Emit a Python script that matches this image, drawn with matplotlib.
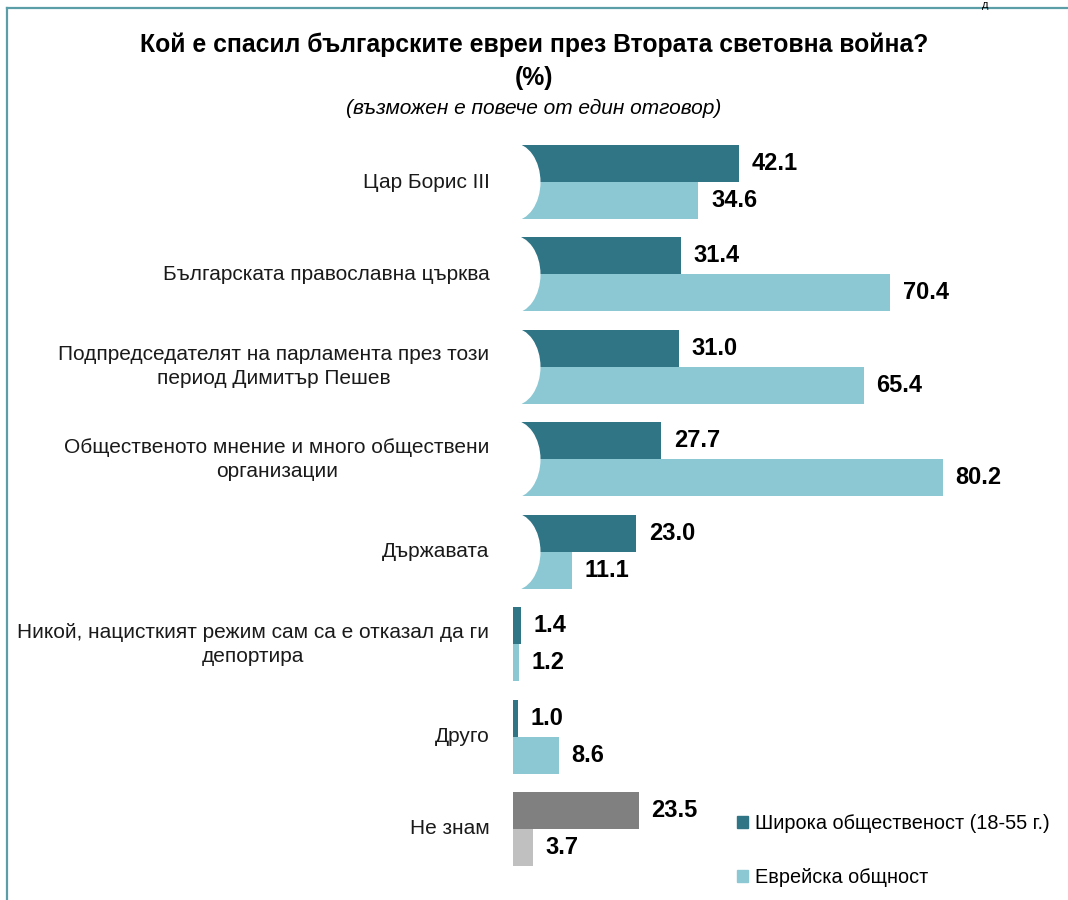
import matplotlib.pyplot as plt
from matplotlib.patches import Ellipse, Patch
from matplotlib.lines import Line2D

categories = ['Цар Борис III',
              'Българската православна църква',
              'Подпредседателят на парламента през този\nпериод Димитър Пешев',
              'Общественото мнение и много обществени\nорганизации',
              'Държавата',
              'Никой, нацисткият режим сам са е отказал да ги\nдепортира',
              'Друго',
              'Не знам']
general_public = [42.1, 31.4, 31.0, 27.7, 23.0, 1.4, 1.0, 23.5]
jewish_community = [34.6, 70.4, 65.4, 80.2, 11.1, 1.2, 8.6, 3.7]
series_names = ['Широка общественост (18-55 г.)', 'Еврейска общност']

DARK = '#2F7586'
LIGHT = '#8CC8D4'
DARK_GRAY = '#808080'
LIGHT_GRAY = '#C0C0C0'
FRAME = '#5B9EA8'

plt.rcParams['font.family'] = ['Liberation Sans', 'DejaVu Sans']

fig = plt.figure(figsize=(10.68, 9), dpi=100)
ax = fig.add_axes([513 / 1068, 20 / 900, 555 / 1068, 750 / 900])

h = 0.4
for i, (a, b) in enumerate(zip(general_public, jewish_community)):
    c1, c2 = (DARK_GRAY, LIGHT_GRAY) if categories[i] == 'Не знам' else (DARK, LIGHT)
    ax.barh(i - h / 2, a, height=h, color=c1)
    ax.barh(i + h / 2, b, height=h, color=c2)
    ax.annotate(f'{a:.1f}', (a, i - h / 2), xytext=(9, 0), textcoords='offset points',
                ha='left', va='center', fontsize=17, fontweight='bold')
    ax.annotate(f'{b:.1f}', (b, i + h / 2), xytext=(9, 0), textcoords='offset points',
                ha='left', va='center', fontsize=17, fontweight='bold')
    # white rounded cut on the left of the bigger bars
    if min(a, b) > 5:
        ax.add_patch(Ellipse((0, i), 10, 0.83, color='white', zorder=3))
    ax.annotate(categories[i], (0, i), xytext=(-17, 0), textcoords='offset points',
                ha='right', va='center', multialignment='center', fontsize=15,
                linespacing=1.35, color='#1a1a1a', annotation_clip=False)

ax.set_xlim(0, 555 / 5.36)
ax.set_ylim(7 + (880 - 829) / 92.4, -(182 - 130) / 92.4)
ax.axis('off')

handles = [Patch(color=DARK), Patch(color=LIGHT)]
fig.legend(handles, series_names, loc='upper left', bbox_to_anchor=(737 / 1068, 1 - 814 / 900),
           frameon=False, fontsize=14.3, handlelength=0.55, handleheight=0.55,
           handletextpad=0.35, labelspacing=1.75, borderpad=0, borderaxespad=0)

fig.text(0.5, 1 - 45 / 900, 'Кой е спасил българските евреи през Втората световна война?',
         ha='center', va='center', fontsize=17.8, fontweight='bold')
fig.text(0.5, 1 - 78 / 900, '(%)', ha='center', va='center', fontsize=17.8,
         fontweight='bold')
fig.text(0.5, 1 - 108 / 900, '(възможен е повече от един отговор)', ha='center', va='center',
         fontsize=15, style='italic')
fig.text(985 / 1068, 1.0, 'д', ha='center', va='top', fontsize=8)

fig.add_artist(Line2D([7 / 1068, 1], [1 - 8 / 900] * 2, color=FRAME, lw=1.6))
fig.add_artist(Line2D([7 / 1068] * 2, [0, 1 - 8 / 900], color=FRAME, lw=1.6))

fig.savefig('out.png', dpi=100)
